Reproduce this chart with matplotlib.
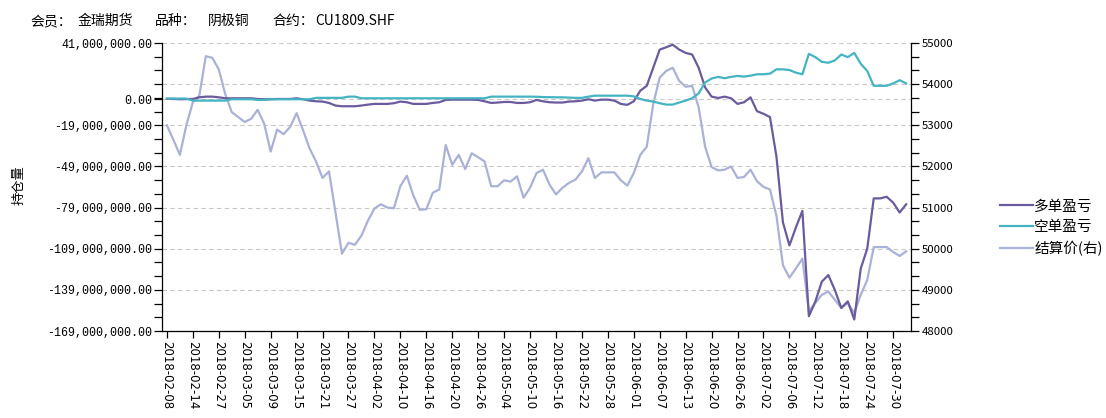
"""Long/short P&L of one futures member against settlement price (CU1809)."""
import numpy as np
import pandas as pd
import matplotlib
matplotlib.use("Agg")
import matplotlib.pyplot as plt
from matplotlib.ticker import FixedLocator, FuncFormatter

plt.rcParams["font.family"] = ["Noto Sans CJK SC", "DejaVu Sans"]

# trading days, every 4th one is labelled on the x axis
holidays = ["2018-02-15", "2018-02-16", "2018-02-19", "2018-02-20", "2018-02-21",
            "2018-04-05", "2018-04-06", "2018-04-30", "2018-05-01", "2018-06-18"]
dates = [d.strftime("%Y-%m-%d") for d in pd.bdate_range("2018-02-08", "2018-08-01")
         if d.strftime("%Y-%m-%d") not in holidays]

# 多单盈亏, million yuan
long_pnl_m = [
    0.3, 0.2, 0.0, 0.1, 0.2, 1.4, 1.9, 1.9, 1.4, 0.7,
    0.7, 0.7, 0.7, 0.7, 0.2, 0.0, 0.0, 0.2, 0.2, 0.2,
    0.7, 0.0, -1.0, -1.5, -1.7, -2.7, -4.6, -5.1, -5.1, -5.1,
    -4.6, -3.9, -3.4, -3.4, -3.4, -2.9, -1.7, -2.2, -3.4, -3.4,
    -3.4, -2.7, -2.2, -0.5, -0.3, -0.3, -0.3, -0.3, -0.5, -1.5,
    -2.7, -2.4, -2.0, -2.0, -2.7, -2.7, -2.2, -0.5, -1.5, -2.2,
    -2.4, -2.4, -1.7, -1.5, -1.0, 0.0, -1.0, -0.3, -0.3, -1.0,
    -3.4, -4.1, -1.5, 6.2, 9.8, 23.0, 36.2, 37.9, 39.8, 36.2,
    33.8, 32.6, 23.0, 8.6, 1.9, 0.9, 1.9, 0.7, -3.4, -2.2,
    1.4, -8.7, -10.6, -13.0, -41.8, -89.8, -106.6, -93.4, -81.4, -158.2,
    -147.4, -133.0, -128.2, -139.0, -152.2, -147.4, -160.6, -123.4, -109.0, -72.3,
    -72.3, -71.1, -75.4, -82.6, -76.6,
]

# 空单盈亏, million yuan
short_pnl_m = [
    0.5, 0.5, 0.5, 0.5, -1.0, -1.0, -1.0, -1.0, -1.0, -1.0,
    0.0, 0.0, 0.0, 0.0, -0.5, -0.5, 0.0, 0.0, 0.0, 0.0,
    0.0, 0.0, 0.0, 1.0, 1.0, 1.0, 1.0, 1.0, 1.9, 1.9,
    0.7, 0.7, 0.7, 0.7, 0.7, 0.7, 0.7, 0.7, 0.7, 0.7,
    0.7, 0.7, 0.7, 0.7, 0.7, 0.7, 0.7, 0.7, 0.7, 0.7,
    1.9, 1.9, 1.9, 1.9, 1.9, 1.9, 1.9, 1.8, 1.6, 1.5,
    1.4, 1.4, 1.2, 1.0, 1.0, 1.9, 2.6, 2.6, 2.6, 2.6,
    2.6, 2.6, 2.1, 0.2, -1.0, -1.7, -2.9, -3.9, -3.9, -2.4,
    -1.0, 0.7, 4.3, 12.2, 15.1, 16.3, 15.3, 16.3, 17.0, 16.5,
    17.2, 18.2, 18.2, 18.7, 21.8, 21.8, 21.3, 19.4, 18.2, 33.1,
    30.7, 27.3, 26.6, 28.3, 32.6, 30.7, 33.8, 25.9, 20.6, 9.8,
    9.8, 9.8, 11.5, 13.9, 11.5,
]

# 结算价(右)
settle = [
    53000, 52650, 52280, 53000, 53560, 53720, 54680, 54640, 54360, 53760,
    53320, 53200, 53080, 53160, 53376, 53040, 52360, 52896, 52784, 52960,
    53296, 52880, 52440, 52120, 51720, 51880, 50880, 49880, 50144, 50096,
    50320, 50680, 50976, 51080, 51000, 50984, 51520, 51776, 51296, 50944,
    50960, 51360, 51440, 52520, 52040, 52280, 51936, 52320, 52224, 52120,
    51520, 51520, 51664, 51632, 51760, 51240, 51480, 51840, 51920, 51560,
    51320, 51480, 51600, 51680, 51880, 52200, 51720, 51856, 51856, 51856,
    51664, 51536, 51840, 52280, 52480, 53520, 54160, 54320, 54400, 54080,
    53936, 53960, 53440, 52480, 51984, 51904, 51920, 52000, 51720, 51744,
    51920, 51640, 51504, 51440, 50800, 49600, 49296, 49520, 49760, 48480,
    48680, 48880, 48960, 48760, 48560, 48680, 48440, 48880, 49240, 50040,
    50040, 50040, 49920, 49824, 49936,
]

left_ticks = [41e6, 0, -19e6, -49e6, -79e6, -109e6, -139e6, -169e6]

# header pieces and their left edge in pixels
header = [("会员：", 30), ("金瑞期货", 78), ("品种：", 155), ("阴极铜", 208),
          ("合约：", 272), ("CU1809.SHF", 315)]

c_long = "#6b5b9e"
c_short = "#45b4c2"
c_settle = "#aab1d8"

x = np.arange(len(dates))
W, H = 1106, 418

fig = plt.figure(figsize=(W / 100, H / 100), dpi=100)
ax = fig.add_axes([0.1465, 0.2081, 0.6772, 0.6890])
ax2 = ax.twinx()
ax.set_zorder(ax2.get_zorder() + 1)
ax.patch.set_visible(False)

l3, = ax2.plot(x, settle, color=c_settle, lw=1.6, label="结算价(右)")
l1, = ax.plot(x, np.array(long_pnl_m) * 1e6, color=c_long, lw=1.6, label="多单盈亏")
l2, = ax.plot(x, np.array(short_pnl_m) * 1e6, color=c_short, lw=1.6, label="空单盈亏")

ax.set_xlim(-0.75, len(dates) - 0.25)
ax.set_ylim(-169e6, 41e6)
ax2.set_ylim(48000, 55000)

# grid follows the right axis, plus the zero line of the left one
ax2.yaxis.set_major_locator(FixedLocator(np.arange(48000, 55001, 1000)))
ax2.yaxis.set_minor_locator(FixedLocator(np.arange(48000, 55001, 1000 / 3)))
ax2.grid(True, axis="y", which="major", ls=(0, (4, 3)), color="#c8c8c8", lw=0.8)
ax.axhline(0, ls=(0, (4, 3)), color="#c8c8c8", lw=0.8, zorder=0)

ax.yaxis.set_major_locator(FixedLocator(left_ticks))
ax.yaxis.set_minor_locator(FixedLocator(np.arange(41e6, -170e6, -10e6)))
ax.yaxis.set_major_formatter(FuncFormatter(lambda v, p: f"{v:,.2f}"))

ax.set_xticks(x[::4])
ax.set_xticklabels(dates[::4], rotation=-90, fontsize=8.5, family="DejaVu Sans")

for a in (ax, ax2):
    a.spines["top"].set_visible(False)
    for s in a.spines.values():
        s.set_linewidth(0.9)
ax.spines["right"].set_visible(False)
ax2.spines["left"].set_visible(False)
ax2.spines["bottom"].set_visible(False)

ax.tick_params(axis="y", which="both", direction="out", length=6, width=0.9, pad=1)
ax.tick_params(axis="x", direction="out", length=5, width=0.9, pad=2)
ax2.tick_params(axis="y", which="both", direction="out", length=6, width=0.9, pad=2,
                labelsize=8.2)
for t in ax.get_yticklabels():
    t.set_family("Liberation Mono")
    t.set_fontsize(8.4)

for text, px in header:
    fig.text(px / W, 1 - 21 / H, text, fontsize=10, va="center", ha="left")
fig.text(0.017, 0.557, "持仓量", rotation=90, fontsize=9.5, va="center", ha="center")

fig.legend(handles=[l1, l2, l3], loc="center left", bbox_to_anchor=(1000 / W, 1 - 228 / H),
           frameon=False, fontsize=10.5, handlelength=2.25, handletextpad=0.1,
           labelspacing=0.47, borderpad=0, borderaxespad=0)

fig.savefig("out.png", dpi=100)
plt.close(fig)
